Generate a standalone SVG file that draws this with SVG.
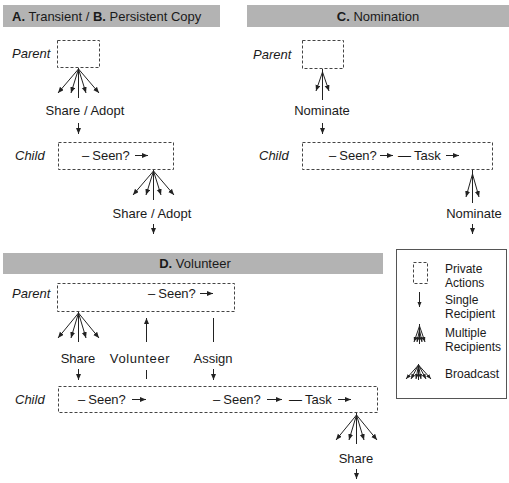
<svg xmlns="http://www.w3.org/2000/svg" width="509" height="483" viewBox="0 0 509 483">
<style>
text{font-family:"Liberation Sans",Arial,Helvetica,sans-serif;font-size:13px;fill:#1a1a1a}
.it{font-style:italic}
.b{font-weight:bold}
.mid{text-anchor:middle}
.lg{font-size:12px}
.bar{fill:#b3b3b3}
.box{fill:none;stroke:#444;stroke-width:1;stroke-dasharray:3,2}
.ln{stroke:#222;stroke-width:1;fill:none}
.ar{stroke:#222;stroke-width:1;fill:none;marker-end:url(#ah)}
.as{stroke:#222;stroke-width:1;fill:none;marker-end:url(#ahs)}
</style>
<defs>
<marker id="ah" markerUnits="userSpaceOnUse" markerWidth="6" markerHeight="6" refX="6" refY="2.5" orient="auto"><path d="M0,0 L6,2.5 L0,5 z" fill="#222"/></marker>
<marker id="ahs" markerUnits="userSpaceOnUse" markerWidth="5" markerHeight="5" refX="5" refY="2" orient="auto"><path d="M0,0 L5,2 L0,4 z" fill="#222"/></marker>
</defs>
<g id="headers">
<rect class="bar" x="3" y="5" width="217" height="22"/>
<text x="12" y="21"><tspan class="b">A.</tspan> Transient / <tspan class="b">B.</tspan> Persistent Copy</text>
<rect class="bar" x="247" y="5" width="262" height="22"/>
<text class="mid" x="378" y="21"><tspan class="b">C.</tspan> Nomination</text>
<rect class="bar" x="3" y="253" width="380" height="21"/>
<text class="mid" x="195" y="268"><tspan class="b">D.</tspan> Volunteer</text>
</g>
<g id="a-parent">
<text class="it" x="12" y="58">Parent</text>
<rect class="box" x="57.5" y="40.5" width="42" height="27"/>
</g>
<g id="a-child">
<text class="it" x="15" y="160">Child</text>
<rect class="box" x="58.5" y="142.5" width="115" height="27"/>
<text x="82" y="160">–<tspan dx="3">Seen?</tspan></text>
<line class="ar" x1="135" y1="155.5" x2="148" y2="155.5"/>
</g>
<g id="c-parent">
<text class="it" x="253" y="59">Parent</text>
<rect class="box" x="302.5" y="40.5" width="41" height="28"/>
</g>
<g id="c-child">
<text class="it" x="259" y="160">Child</text>
<rect class="box" x="302.5" y="142.5" width="190" height="27"/>
<text x="329" y="160">–<tspan dx="3">Seen?</tspan></text>
<line class="ar" x1="380" y1="155.5" x2="393" y2="155.5"/>
<text x="398" y="160">—<tspan dx="3">Task</tspan></text>
<line class="ar" x1="446" y1="155.5" x2="459" y2="155.5"/>
</g>
<g id="d-parent">
<text class="it" x="12" y="298">Parent</text>
<rect class="box" x="57.5" y="283.5" width="177" height="28"/>
<text x="148" y="298">–<tspan dx="3">Seen?</tspan></text>
<line class="ar" x1="200" y1="293.5" x2="213" y2="293.5"/>
</g>
<g id="d-child">
<text class="it" x="15" y="404">Child</text>
<rect class="box" x="58.5" y="386.5" width="319" height="26"/>
<text x="78" y="404">–<tspan dx="3">Seen?</tspan></text>
<line class="ar" x1="132" y1="399.5" x2="146" y2="399.5"/>
<text x="213" y="404">–<tspan dx="3">Seen?</tspan></text>
<line class="ar" x1="267" y1="399.5" x2="282" y2="399.5"/>
<text x="289" y="404">—<tspan dx="3">Task</tspan></text>
<line class="ar" x1="338" y1="399.5" x2="351" y2="399.5"/>
</g>
<g id="connectors">
<line class="ln" x1="78.5" y1="68" x2="78.5" y2="98"/>
<line class="ar" x1="78.5" y1="69" x2="58" y2="93"/>
<line class="ar" x1="78.5" y1="69" x2="71" y2="93"/>
<line class="ar" x1="78.5" y1="69" x2="86" y2="93"/>
<line class="ar" x1="78.5" y1="69" x2="99" y2="93"/>
<text class="mid" x="85" y="115">Share / Adopt</text>
<line class="ar" x1="78.5" y1="123" x2="78.5" y2="134"/>
<line class="ln" x1="153.5" y1="170" x2="153.5" y2="200"/>
<line class="ar" x1="153.5" y1="171" x2="133" y2="195"/>
<line class="ar" x1="153.5" y1="171" x2="146" y2="195"/>
<line class="ar" x1="153.5" y1="171" x2="161" y2="195"/>
<line class="ar" x1="153.5" y1="171" x2="174" y2="195"/>
<text class="mid" x="152" y="218">Share / Adopt</text>
<line class="ar" x1="153.5" y1="224" x2="153.5" y2="234"/>
<line class="ln" x1="322.5" y1="69" x2="322.5" y2="100"/>
<line class="ar" x1="322.5" y1="72" x2="316" y2="91"/>
<line class="ar" x1="322.5" y1="72" x2="329" y2="91"/>
<text class="mid" x="322" y="115">Nominate</text>
<line class="ar" x1="322.5" y1="123" x2="322.5" y2="134"/>
<line class="ln" x1="472.5" y1="170" x2="472.5" y2="203"/>
<line class="ar" x1="472.5" y1="174" x2="466" y2="197"/>
<line class="ar" x1="472.5" y1="174" x2="479" y2="197"/>
<text class="mid" x="474" y="218">Nominate</text>
<line class="ar" x1="472.5" y1="224" x2="472.5" y2="234"/>
<line class="ln" x1="78.5" y1="312" x2="78.5" y2="342"/>
<line class="ar" x1="78.5" y1="313" x2="58" y2="338"/>
<line class="ar" x1="78.5" y1="313" x2="71" y2="338"/>
<line class="ar" x1="78.5" y1="313" x2="86" y2="338"/>
<line class="ar" x1="78.5" y1="313" x2="99" y2="338"/>
<text class="mid" x="78" y="363">Share</text>
<line class="ar" x1="78.5" y1="369" x2="78.5" y2="380"/>
<line class="ar" x1="146.5" y1="342" x2="146.5" y2="318"/>
<text class="mid" x="140" y="363" letter-spacing="0.6">Volunteer</text>
<line class="ln" x1="146.5" y1="370" x2="146.5" y2="379"/>
<line class="ln" x1="213.5" y1="318" x2="213.5" y2="342"/>
<text class="mid" x="213" y="363">Assign</text>
<line class="ar" x1="213.5" y1="369" x2="213.5" y2="380"/>
<line class="ln" x1="356.5" y1="413" x2="356.5" y2="444"/>
<line class="ar" x1="356.5" y1="415" x2="336" y2="440"/>
<line class="ar" x1="356.5" y1="415" x2="349" y2="440"/>
<line class="ar" x1="356.5" y1="415" x2="364" y2="440"/>
<line class="ar" x1="356.5" y1="415" x2="377" y2="440"/>
<text class="mid" x="356" y="463">Share</text>
<line class="ar" x1="356.5" y1="469" x2="356.5" y2="479"/>
</g>
<g id="legend">
<rect x="396.5" y="249.5" width="110" height="149" fill="none" stroke="#555" stroke-width="1"/>
<rect class="box" x="413.5" y="262.5" width="14" height="21"/>
<text class="lg" x="445" y="273">Private</text>
<text class="lg" x="445" y="287">Actions</text>
<line class="as" x1="419.5" y1="292" x2="419.5" y2="307"/>
<text class="lg" x="445" y="304">Single</text>
<text class="lg" x="445" y="318">Recipient</text>
<line class="ln" x1="419.5" y1="324" x2="419.5" y2="344"/>
<line class="as" x1="419.5" y1="326" x2="414" y2="342"/>
<line class="as" x1="419.5" y1="326" x2="425" y2="342"/>
<line class="as" x1="419.5" y1="330" x2="417" y2="342"/>
<line class="as" x1="419.5" y1="330" x2="422" y2="342"/>
<text class="lg" x="445" y="337">Multiple</text>
<text class="lg" x="445" y="351">Recipients</text>
<line class="ln" x1="418.5" y1="364" x2="418.5" y2="380"/>
<line class="as" x1="418.5" y1="365" x2="406" y2="379"/>
<line class="as" x1="418.5" y1="365" x2="411" y2="379"/>
<line class="as" x1="418.5" y1="365" x2="416" y2="379"/>
<line class="as" x1="418.5" y1="365" x2="421" y2="379"/>
<line class="as" x1="418.5" y1="365" x2="426" y2="379"/>
<line class="as" x1="418.5" y1="365" x2="431" y2="379"/>
<text class="lg" x="445" y="378">Broadcast</text>
</g>
</svg>
